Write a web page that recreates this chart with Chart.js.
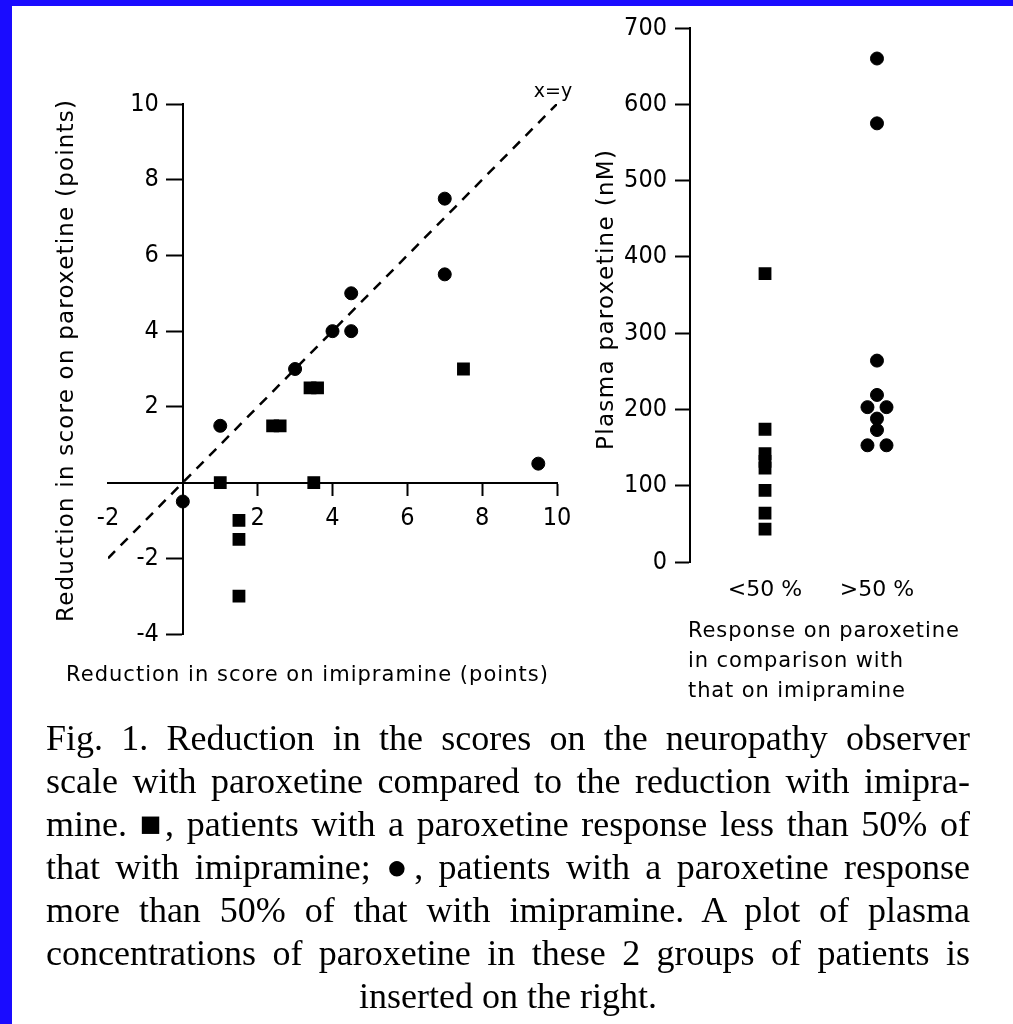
<!DOCTYPE html>
<html>
<head>
<meta charset="utf-8">
<title>Paroxetine vs imipramine</title>
<script src="https://cdn.jsdelivr.net/npm/chart.js@4.4.1/dist/chart.umd.min.js"></script>
<style>
  html, body { margin: 0; padding: 0; background: #fff; }
  body { width: 1013px; height: 1024px; position: relative; overflow: hidden; }
  .edge-left { position: absolute; left: 0; top: 0; width: 12px; height: 1024px; background: #1a0cff; }
  .edge-top { position: absolute; left: 0; top: 0; width: 1013px; height: 6px; background: #1a0cff; }
  #scoreChart { position: absolute; left: 0; top: 0; }
  #plasmaChart { position: absolute; left: 590px; top: 0; }
  .caption { position: absolute; left: 46px; top: 717px; width: 924px; color: #000;
             font-family: "Liberation Serif", "Times New Roman", serif; font-size: 36px; line-height: 43px; }
  .caption div { text-align: justify; text-align-last: justify; white-space: nowrap; }
  .caption div.last { text-align: center; text-align-last: center; }
</style>
</head>
<body>
<canvas id="scoreChart" width="590" height="720"></canvas>
<canvas id="plasmaChart" width="423" height="720"></canvas>
<div class="caption">
  <div>Fig. 1. Reduction in the scores on the neuropathy observer</div>
  <div>scale with paroxetine compared to the reduction with imipra-</div>
  <div>mine. ■, patients with a paroxetine response less than 50% of</div>
  <div>that with imipramine; ●, patients with a paroxetine response</div>
  <div>more than 50% of that with imipramine. A plot of plasma</div>
  <div>concentrations of paroxetine in these 2 groups of patients is</div>
  <div class="last">inserted on the right.</div>
</div>
<div class="edge-left"></div>
<div class="edge-top"></div>
<script>
// reduction in score (points): imipramine on x, paroxetine on y
const imipramineOver50 = [0, 1, 3, 4, 4.5, 4.5, 7, 7, 9.5];
const paroxetineOver50 = [-0.5, 1.5, 3, 4, 4, 5, 7.5, 5.5, 0.5];
const imipramineUnder50 = [1, 1.5, 1.5, 1.5, 2.4, 2.6, 3.4, 3.6, 3.5, 7.5];
const paroxetineUnder50 = [0, -1, -1.5, -3, 1.5, 1.5, 2.5, 2.5, 0, 3];
const identityLine = [-2, 10];

// plasma paroxetine (nM) per response group
const responseGroups = ['<50 %', '>50 %'];
const plasmaUnder50 = [378, 174, 142, 132, 123, 94, 64, 43];
const plasmaOver50 = [660, 575, 264, 219, 203, 203, 188, 173, 153, 153];
const over50Side = [0, 0, 0, 0, -1, 1, 0, 0, -1, 1]; // tied values sit side by side

const INK = '#000';
const tickFamily = '"Liberation Sans Narrow", "DejaVu Sans Condensed", "DejaVu Sans", sans-serif';
const tickFont = { family: tickFamily, size: 25 };
const labelFamily = '"DejaVu Sans", sans-serif';

// Free text for a chart (titles, notes) plus y tick labels set off to the left
// of an axis that sits inside the plot. Letter spacing can stretch a line to a width.
function figureText(items, yLabels) {
  return {
    id: 'figureText',
    afterDraw(chart) {
      const ctx = chart.ctx;
      if (yLabels) {
        const ys = chart.scales.y;
        const xAxisAt = chart.scales.x.getPixelForValue(yLabels.at) - yLabels.gap;
        ctx.save();
        ctx.font = tickFont.size + 'px ' + tickFamily;
        ctx.fillStyle = INK;
        ctx.textAlign = 'right';
        ctx.textBaseline = 'middle';
        ys.ticks.forEach(t => {
          if (t.label === '' || t.label == null) return;
          ctx.fillText(t.label, xAxisAt, ys.getPixelForValue(t.value));
        });
        ctx.restore();
      }
      items.forEach(item => {
        let x = item.x, y = item.y;
        if (item.at) {
          x = chart.scales.x.getPixelForValue(item.at[0]) + (item.dx || 0);
          y = chart.scales.y.getPixelForValue(item.at[1]) + (item.dy || 0);
        }
        ctx.save();
        ctx.font = item.font;
        ctx.fillStyle = INK;
        ctx.textBaseline = 'middle';
        ctx.textAlign = 'left';
        const plain = ctx.measureText(item.text).width;
        let spacing = item.spacing || 0;
        if (item.width) spacing = (item.width - plain) / (item.text.length - 1);
        const full = plain + spacing * (item.text.length - 1);
        ctx.letterSpacing = spacing + 'px';
        ctx.translate(x, y);
        if (item.rotate) ctx.rotate(item.rotate);
        ctx.fillText(item.text, item.align === 'left' ? 0 : -full / 2, 0);
        ctx.restore();
      });
    }
  };
}

const hideAt = (values) => (c) => (c.tick && values.includes(c.tick.value)) ? 'rgba(0,0,0,0)' : INK;

new Chart(document.getElementById('scoreChart'), {
  type: 'scatter',
  data: {
    datasets: [
      {
        type: 'line',
        data: identityLine.map(v => ({ x: v, y: v })),
        borderColor: INK,
        borderWidth: 2.5,
        borderDash: [10, 8],
        pointRadius: 0
      },
      {
        data: imipramineUnder50.map((v, i) => ({ x: v, y: paroxetineUnder50[i] })),
        pointStyle: 'rect',
        pointRadius: 8,
        pointBackgroundColor: INK,
        pointBorderColor: INK,
        pointBorderWidth: 1.5
      },
      {
        data: imipramineOver50.map((v, i) => ({ x: v, y: paroxetineOver50[i] })),
        pointStyle: 'circle',
        pointRadius: 6.5,
        pointBackgroundColor: INK,
        pointBorderColor: INK,
        pointBorderWidth: 1
      }
    ]
  },
  options: {
    responsive: false,
    animation: false,
    events: [],
    layout: { padding: { left: 108, right: 33, top: 104, bottom: 86 } },
    scales: {
      x: {
        type: 'linear',
        min: -2, max: 10,
        position: { y: 0 },
        border: { color: INK, width: 2 },
        grid: { drawOnChartArea: false, tickLength: 12, tickWidth: 2, tickColor: hideAt([-2, 0]) },
        ticks: {
          stepSize: 2, color: INK, font: tickFont, padding: 9, maxRotation: 0,
          callback: (v) => v === 0 ? '' : v
        }
      },
      y: {
        type: 'linear',
        min: -4, max: 10,
        position: { x: 0 },
        border: { color: INK, width: 2 },
        grid: { drawOnChartArea: false, tickLength: 16, tickWidth: 2, tickColor: hideAt([0]) },
        ticks: {
          display: false, stepSize: 2,
          callback: (v) => v === 0 ? '' : String(v)
        }
      }
    },
    plugins: { legend: { display: false }, tooltip: { enabled: false } }
  },
  plugins: [figureText([
    { text: 'Reduction in score on paroxetine (points)', x: 67, y: 361, rotate: -Math.PI / 2,
      font: '23px ' + labelFamily, width: 522 },
    { text: 'Reduction in score on imipramine (points)', x: 307, y: 676,
      font: '21px ' + labelFamily, width: 482 },
    { text: 'x=y', at: [10, 10], dx: -4, dy: -12, font: '19px ' + labelFamily }
  ], { at: 0, gap: 24 })]
});

new Chart(document.getElementById('plasmaChart'), {
  type: 'scatter',
  data: {
    datasets: [
      {
        data: plasmaUnder50.map(v => ({ x: 1, y: v })),
        pointStyle: 'rect',
        pointRadius: 8,
        pointBackgroundColor: INK,
        pointBorderColor: INK,
        pointBorderWidth: 1.5
      },
      {
        data: plasmaOver50.map((v, i) => ({ x: 2 + over50Side[i] * 0.085, y: v })),
        pointStyle: 'circle',
        pointRadius: 6.5,
        pointBackgroundColor: INK,
        pointBorderColor: INK,
        pointBorderWidth: 1
      }
    ]
  },
  options: {
    responsive: false,
    animation: false,
    events: [],
    layout: { padding: { left: 100, right: 61, top: 28, bottom: 158 } },
    scales: {
      x: {
        type: 'linear',
        min: 0.33, max: 2.67,
        position: { y: 0 },
        border: { display: false },
        grid: { display: false, drawTicks: false },
        afterBuildTicks: (scale) => { scale.ticks = responseGroups.map((g, i) => ({ value: i + 1 })); },
        ticks: {
          color: INK, padding: 15, maxRotation: 0, autoSkip: false,
          font: { family: labelFamily, size: 22 },
          callback: (v) => responseGroups[v - 1] || ''
        }
      },
      y: {
        type: 'linear',
        min: 0, max: 700,
        position: { x: 0.33 },
        border: { color: INK, width: 2 },
        grid: { drawOnChartArea: false, tickLength: 14, tickWidth: 2, tickColor: INK },
        ticks: { display: false, stepSize: 100 }
      }
    },
    plugins: { legend: { display: false }, tooltip: { enabled: false } }
  },
  plugins: [figureText([
    { text: 'Plasma paroxetine (nM)', x: 17, y: 300, rotate: -Math.PI / 2,
      font: '23px ' + labelFamily, width: 300 },
    { text: 'Response on paroxetine', x: 98, y: 632, align: 'left', font: '21px ' + labelFamily, spacing: 0.9 },
    { text: 'in comparison with', x: 98, y: 662, align: 'left', font: '21px ' + labelFamily, spacing: 0.9 },
    { text: 'that on imipramine', x: 98, y: 692, align: 'left', font: '21px ' + labelFamily, spacing: 0.9 }
  ], { at: 0.33, gap: 23 })]
});
</script>
</body>
</html>
